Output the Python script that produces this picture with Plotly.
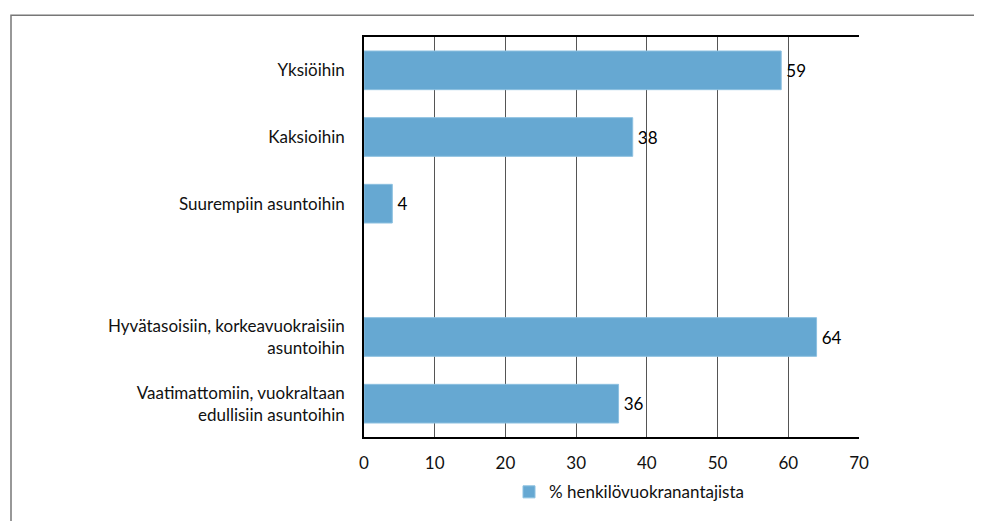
import plotly.graph_objects as go

categories = ["Yksiöihin", "Kaksioihin", "Suurempiin asuntoihin", " ",
              "Hyvätasoisiin, korkeavuokraisiin<br>asuntoihin",
              "Vaatimattomiin, vuokraltaan<br>edullisiin asuntoihin"]
values = [59, 38, 4, None, 64, 36]
value_labels = ["59", "38", "4", "", "64", "36"]
series_name = "% henkilövuokranantajista"
x_ticks = [0, 10, 20, 30, 40, 50, 60, 70]

OFF = 7  # page offset compensation
W, H = 982 - OFF, 521 - OFF
L, R, T, B = 363 - OFF, 858 - OFF, 36 - OFF, 441 - OFF

fig = go.Figure()
fig.add_trace(go.Bar(
    y=categories, x=values, orientation="h", name=series_name,
    marker=dict(color="#66A8D2", line=dict(color="#8CC0E0", width=1)),
    width=0.58,
    text=["\u2009" + t if t else "" for t in value_labels],
    textposition="outside", cliponaxis=False,
    textfont=dict(color="#000000", size=17),
    showlegend=True,
))

def px_x(p):
    return (p - OFF - L) / (R - L)

def px_y(p):
    return (B - (p - OFF)) / (B - T)

fig.update_layout(
    width=W, height=H,
    margin=dict(l=L, r=W - R, t=T, b=H - B, pad=0),
    paper_bgcolor="white", plot_bgcolor="white",
    font=dict(family="Lato, 'Open Sans', sans-serif", size=17, color="#111111"),
    showlegend=True,
    legend=dict(orientation="h", x=px_x(508), xanchor="left", y=px_y(497), yanchor="middle",
                font=dict(size=17), bgcolor="rgba(0,0,0,0)"),
    xaxis=dict(range=[0, 70], tickvals=x_ticks, showgrid=True, gridcolor="#555555", gridwidth=1,
               showline=True, linecolor="#000000", linewidth=1.5, mirror=True,
               zeroline=False, ticks="", ticklabelstandoff=10, tickfont=dict(size=17)),
    yaxis=dict(type="category", categoryorder="array", categoryarray=categories,
               autorange="reversed", showgrid=False, showline=True, linecolor="#000000",
               linewidth=1.5, ticks="", ticklabelstandoff=14, tickfont=dict(size=17)),
    bargap=0.42,
    shapes=[dict(type="path", xref="paper", yref="paper",
                 path=f"M {px_x(10)} {px_y(540)} L {px_x(10)} {px_y(14)} L {px_x(990)} {px_y(14)}",
                 line=dict(color="#777777", width=1.5))],
)

fig.write_html("out.html")
